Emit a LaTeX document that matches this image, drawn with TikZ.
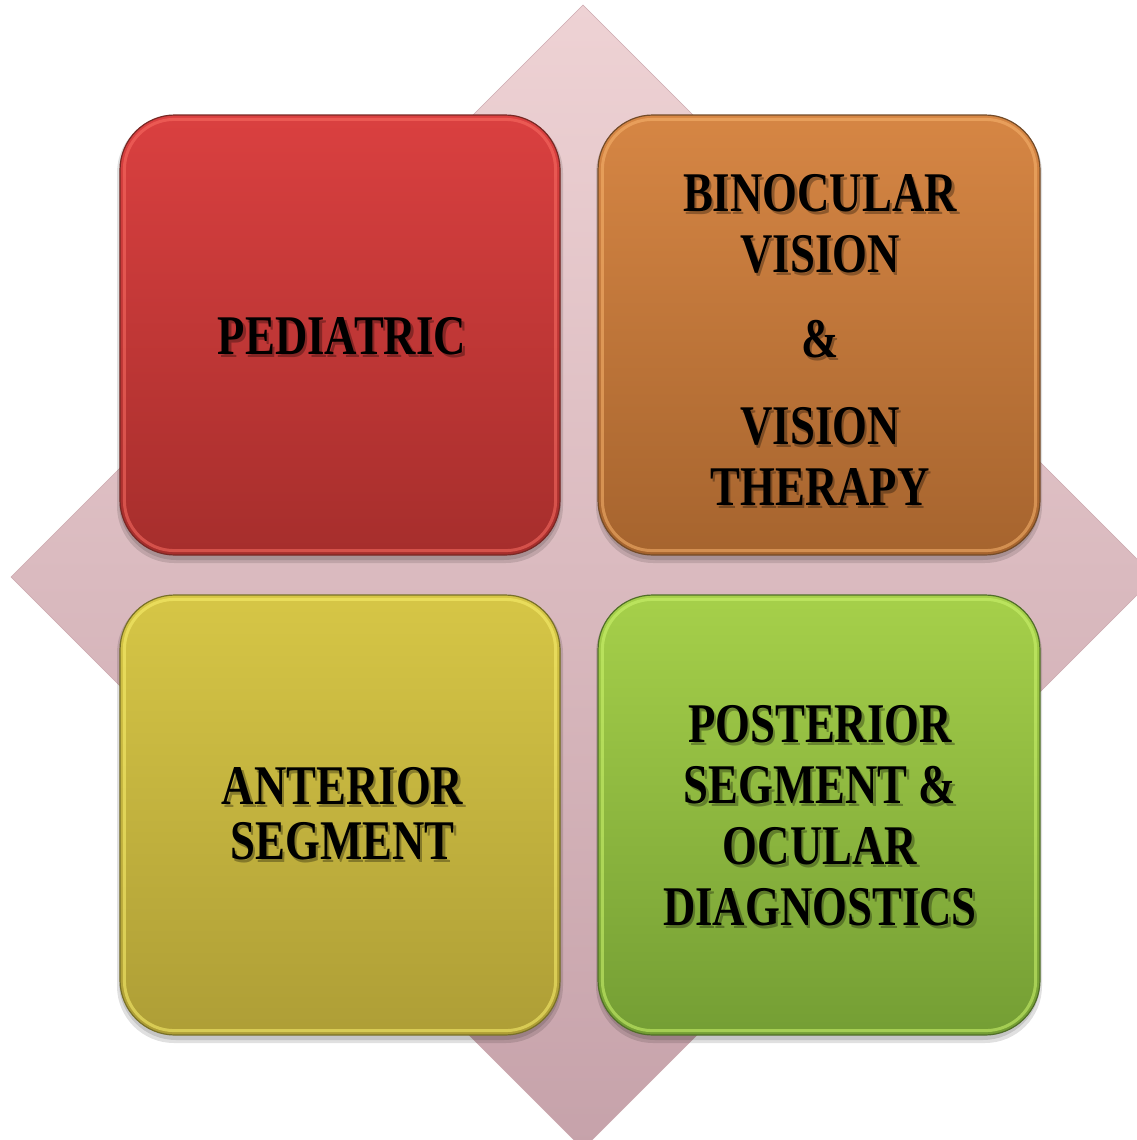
\documentclass[tikz,border=0pt]{standalone}
\usepackage{fontspec}
\newfontfamily\boxfont[FakeStretch=0.8]{Liberation Serif}
\definecolor{dtop}{RGB}{238,210,212}
\definecolor{dmid}{RGB}{222,193,197}
\definecolor{dbot}{RGB}{198,162,170}
\definecolor{dedge}{RGB}{205,170,176}
\definecolor{redT}{RGB}{218,64,64}
\definecolor{redL}{RGB}{166,46,44}
\definecolor{redB}{RGB}{120,40,36}
\definecolor{redR}{RGB}{250,110,100}
\definecolor{orT}{RGB}{214,134,68}
\definecolor{orL}{RGB}{166,100,46}
\definecolor{orB}{RGB}{115,75,40}
\definecolor{orR}{RGB}{248,180,110}
\definecolor{yeT}{RGB}{214,198,70}
\definecolor{yeL}{RGB}{174,158,54}
\definecolor{yeB}{RGB}{120,112,40}
\definecolor{yeR}{RGB}{250,240,110}
\definecolor{grT}{RGB}{166,208,74}
\definecolor{grL}{RGB}{116,158,52}
\definecolor{grB}{RGB}{80,110,40}
\definecolor{grR}{RGB}{205,245,110}
\tikzset{
  tile/.style={rectangle, rounded corners=55pt, minimum width=440pt, minimum height=440pt, inner sep=0pt, draw=#1, line width=1.2pt},
  rim/.style={draw=#1, line width=3pt, opacity=0.55, rounded corners=50pt},
  tshadow/.style={fill=black, opacity=0.12, rounded corners=57pt},
  lbl/.style={font=\boxfont\bfseries\fontsize{56}{61}\selectfont, align=center, inner sep=0pt, text=black},
  lblsh/.style={lbl, text opacity=0.3}
}
\begin{document}
\begin{tikzpicture}[x=1pt,y=-1pt]
\useasboundingbox (0,0) rectangle (1137,1140);
\begin{scope}
  \clip (0,0) rectangle (1137,1140);
  \shade[top color=dtop, middle color=dmid, bottom color=dbot, draw=dedge, line width=0.6pt]
    (583,5) -- (1155,577) -- (583,1149) -- (11,577) -- cycle;
\end{scope}
% soft shadows under the tiles
\foreach \cx/\cy in {340/335, 819/335, 340/815, 819/815} {
  \fill[tshadow] (\cx-223,\cy-219) rectangle (\cx+223,\cy+228);
  \fill[tshadow] (\cx-221,\cy-219) rectangle (\cx+221,\cy+225);
}
% tiles
\node[tile=redB, top color=redT, bottom color=redL] (ped) at (340,335) {};
\node[tile=orB, top color=orT, bottom color=orL, minimum width=442pt] (bin) at (819,335) {};
\node[tile=yeB, top color=yeT, bottom color=yeL] (ant) at (340,815) {};
\node[tile=grB, top color=grT, bottom color=grL, minimum width=442pt] (pos) at (819,815) {};
\draw[rim=redR] ([shift={(5,5)}]ped.north west) rectangle ([shift={(-5,-5)}]ped.south east);
\draw[rim=orR] ([shift={(5,5)}]bin.north west) rectangle ([shift={(-5,-5)}]bin.south east);
\draw[rim=yeR] ([shift={(5,5)}]ant.north west) rectangle ([shift={(-5,-5)}]ant.south east);
\draw[rim=grR] ([shift={(5,5)}]pos.north west) rectangle ([shift={(-5,-5)}]pos.south east);
% labels (shadow first, then text)
\node[lblsh] (ped-s) at (344.5,339.5) {PEDIATRIC};
\node[lbl] (ped-t) at (342,336.5) {PEDIATRIC};
\node[lblsh] (bin-s) at (822.5,343) {BINOCULAR\\VISION\\[24pt]\&\\[26pt]VISION\\THERAPY};
\node[lbl] (bin-t) at (820,340) {BINOCULAR\\VISION\\[24pt]\&\\[26pt]VISION\\THERAPY};
\node[lblsh, font=\boxfont\bfseries\fontsize{56}{55}\selectfont] (ant-s) at (345,817) {ANTERIOR\\SEGMENT};
\node[lbl, font=\boxfont\bfseries\fontsize{56}{55}\selectfont] (ant-t) at (342.5,814) {ANTERIOR\\SEGMENT};
\node[lblsh] (pos-s) at (822.5,819) {POSTERIOR\\SEGMENT \&\\OCULAR\\DIAGNOSTICS};
\node[lbl] (pos-t) at (820,816) {POSTERIOR\\SEGMENT \&\\OCULAR\\DIAGNOSTICS};
\end{tikzpicture}
\end{document}
